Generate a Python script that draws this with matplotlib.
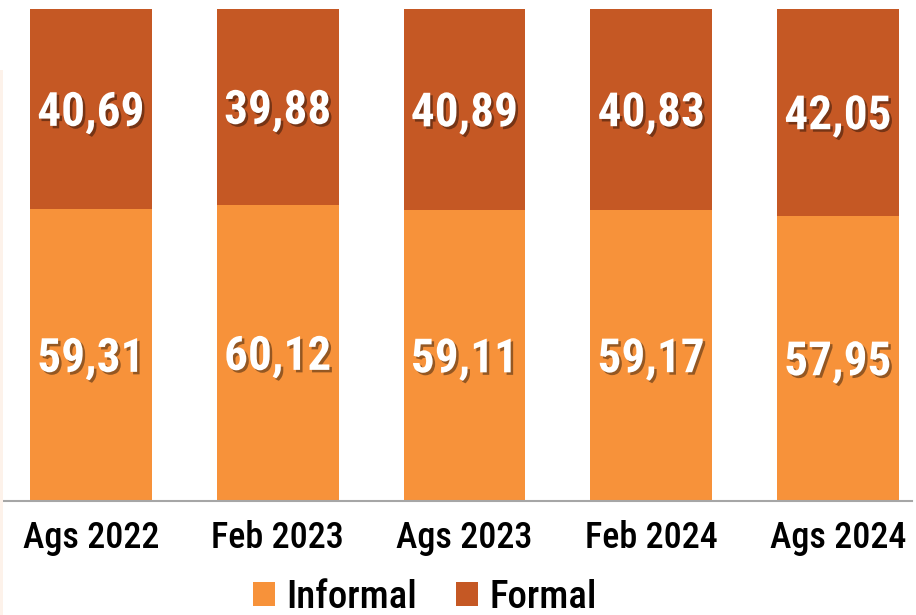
import matplotlib
matplotlib.use("Agg")
import matplotlib.pyplot as plt
import matplotlib.patheffects as pe
from matplotlib.patches import Rectangle, Patch

categories = ["Ags 2022", "Feb 2023", "Ags 2023", "Feb 2024", "Ags 2024"]
informal = [59.31, 60.12, 59.11, 59.17, 57.95]
formal = [40.69, 39.88, 40.89, 40.83, 42.05]
series_names = ["Informal", "Formal"]

c_inf = "#F7923A"
c_for = "#C55824"
FONT = ["Roboto Condensed", "DejaVu Sans"]

fig = plt.figure(figsize=(9.16, 6.15), dpi=100)
ax = fig.add_axes([3/916, 1-501/615, (912-3)/916, (501-9)/615])

x = list(range(len(categories)))
w = 0.653
ax.bar(x, informal, width=w, color=c_inf, zorder=2)
ax.bar(x, formal, width=w, bottom=informal, color=c_for, zorder=2)

shadow = [pe.withSimplePatchShadow(offset=(1.8, -1.8), shadow_rgbFace="black", alpha=0.4)]
def fmt(v):
    return f"{v:.2f}".replace(".", ",")
VS = 34
for i in x:
    for yc, v in ((informal[i] / 2, informal[i]), (informal[i] + formal[i] / 2, formal[i])):
        ax.annotate(fmt(v), (i, yc), xytext=(0, -VS * 0.355), textcoords="offset points",
                    ha="center", va="baseline", color="white", fontsize=VS,
                    fontweight="bold", family=FONT, path_effects=shadow, zorder=3)

ax.set_xlim(-0.471, 4.396)
ax.set_ylim(0, 100)
ax.set_xticks(x)
ax.set_xticklabels(categories, fontsize=26, family=FONT, fontweight="medium")
ax.tick_params(axis="x", length=0, pad=14)
ax.set_yticks([])
for s in ["top", "right", "left"]:
    ax.spines[s].set_visible(False)
ax.spines["bottom"].set_color("#A6A6A6")
ax.spines["bottom"].set_linewidth(1.5)

fig.patches.append(Rectangle((0, 0), 3/916, 1-70/615, transform=fig.transFigure,
                             facecolor="#FDF2EA", edgecolor="none"))

handles = [Patch(facecolor=c_inf), Patch(facecolor=c_for)]
fig.legend(handles, series_names, loc="center", bbox_to_anchor=(0.464, 0.029),
           ncol=2, frameon=False, prop={"family": FONT, "size": 28, "weight": "medium"},
           handlelength=0.55, handleheight=0.55, handletextpad=0.3, columnspacing=1.0)

fig.savefig("out.png", dpi=100)
